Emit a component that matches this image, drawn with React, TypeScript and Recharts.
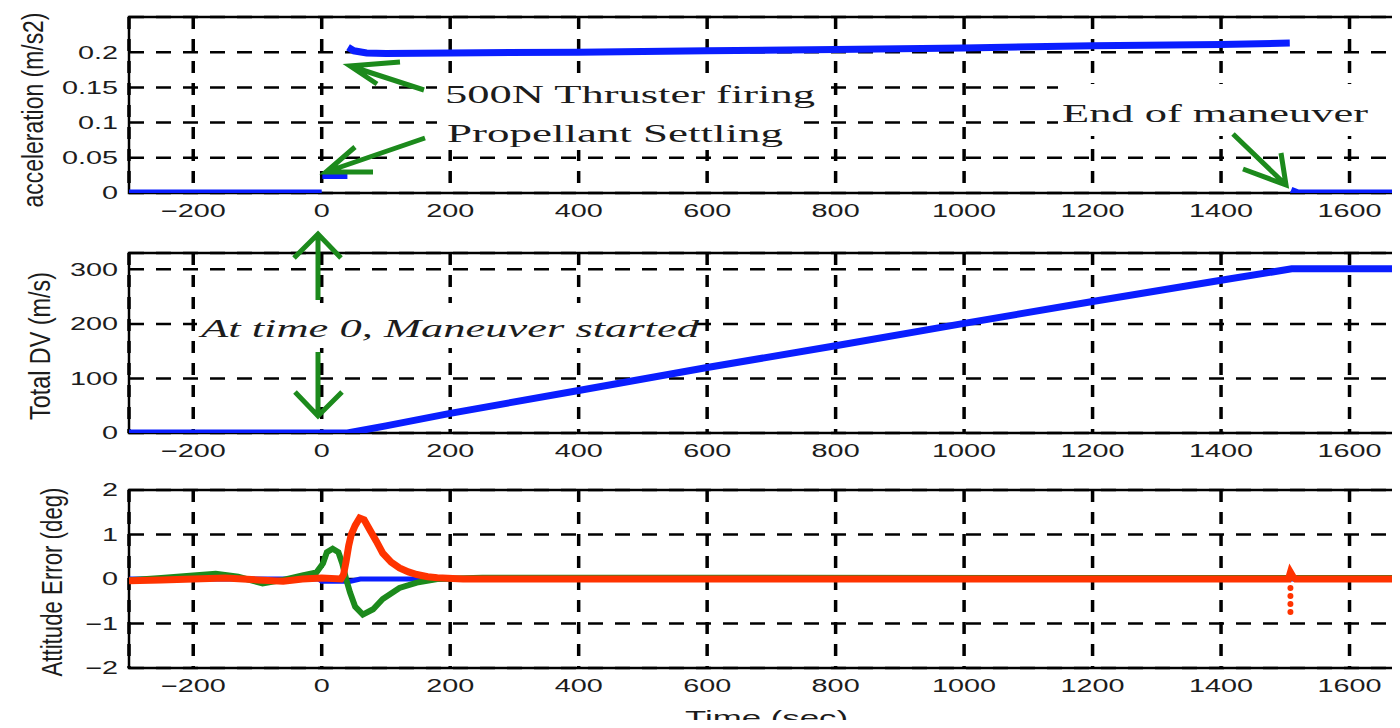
import React from "react";
import { CartesianGrid, Line, LineChart, ReferenceArea, XAxis, YAxis } from "recharts";

// time axis (sec)
const timeTicks = [-200, 0, 200, 400, 600, 800, 1000, 1200, 1400, 1600];

// acceleration (m/s2) — null breaks the trace between segments
const accTime = [-300, 0, 0.5, 1, 40, 40.5, 41, 50, 70, 100, 200, 400, 600, 800, 1000, 1200, 1400, 1507, 1508, 1509, 1520, 1800];
const accValue = [0, 0, null, 0.025, 0.025, null, 0.207, 0.202, 0.199, 0.198, 0.199, 0.2, 0.202, 0.204, 0.206, 0.209, 0.211, 0.213, null, 0.004, 0, 0];
const accTicks = [0, 0.05, 0.1, 0.15, 0.2];

// total delta-V (m/s)
const dvTime = [-300, 40, 100, 200, 400, 600, 800, 1000, 1200, 1400, 1510, 1800];
const dvValue = [0, 0, 13, 36, 78, 120, 160, 201, 241, 280, 301, 301];
const dvTicks = [0, 100, 200, 300];

// attitude error (deg), three axes
const blueTime = [-300, -5, 0, 45, 60, 150, 1800];
const blueValue = [0, 0, -0.05, -0.05, 0, 0, 0];
const greenTime = [-300, -250, -200, -165, -130, -92, -60, -30, -8, 2, 8, 17, 26, 32, 38, 44, 52, 64, 80, 95, 121, 148, 180, 250, 1800];
const greenValue = [-0.03, 0.02, 0.08, 0.12, 0.05, -0.1, -0.02, 0.08, 0.15, 0.35, 0.6, 0.68, 0.6, 0.35, 0, -0.3, -0.62, -0.8, -0.68, -0.45, -0.2, -0.08, 0, 0.03, 0.02];
const redTime = [-300, -250, -200, -150, -100, -60, -30, 0, 30, 34, 38, 42, 46, 52, 59, 66, 75, 85, 95, 108, 121, 135, 148, 165, 180, 220, 1505, 1508, 1510, 1512, 1516, 1800];
const redValue = [-0.04, -0.02, 0, 0.02, -0.02, -0.05, 0, 0.02, 0, 0.1, 0.4, 0.75, 1.0, 1.2, 1.37, 1.33, 1.1, 0.85, 0.58, 0.38, 0.25, 0.16, 0.1, 0.05, 0.03, 0, 0, 0.15, 0.1, 0.05, 0, 0];
const redDotTime = [1508, 1508, 1508, 1508];
const redDotValue = [-0.2, -0.38, -0.56, -0.74];
const attTicks = [-2, -1, 0, 1, 2];

const BLUE = "#0a1eff";
const GREEN = "#1c8a1c";
const RED = "#ff3300";
const INK = "#1c1c1c";
const SANS = "'Liberation Sans', Arial, sans-serif";
const SERIF = "'Liberation Serif', 'Times New Roman', serif";
const STRETCH = 1.6; // the source figure is squashed wide

const zip = (ts: number[], vs: (number | null)[]) => ts.map((t, i) => ({ t, v: vs[i] }));
const fmt = (v: number) => (v < 0 ? "\u2212" + Math.abs(v) : String(v));

function XTick({ x, y, payload }: any) {
  return (
    <text
      transform={`translate(${x},${y + 18}) scale(${STRETCH},1)`}
      textAnchor="middle"
      dominantBaseline="central"
      fontFamily={SANS}
      fontSize={18}
      fill={INK}
    >
      {fmt(payload.value)}
    </text>
  );
}

function YTick({ x, y, payload }: any) {
  return (
    <text
      transform={`translate(${x - 11},${y}) scale(${STRETCH},1)`}
      textAnchor="end"
      dominantBaseline="central"
      fontFamily={SANS}
      fontSize={18}
      fill={INK}
    >
      {fmt(payload.value)}
    </text>
  );
}

function Panel({ plotTop, plotH, yDomain, yTicks, children }: any) {
  return (
    <div style={{ position: "absolute", left: 0, top: plotTop - 17 }}>
      <LineChart width={1500} height={17 + plotH + 30} margin={{ top: 17, right: 22, bottom: 0, left: 0 }}>
        <CartesianGrid vertical={false} stroke="#000" strokeWidth={2.5} strokeDasharray="15 12" />
        <CartesianGrid horizontal={false} stroke="#000" strokeWidth={3.5} strokeDasharray="12 10" />
        <XAxis
          type="number"
          dataKey="t"
          domain={[-300, 1800]}
          ticks={timeTicks}
          allowDataOverflow
          tick={<XTick />}
          tickLine={false}
          axisLine={false}
          tickSize={0}
          tickMargin={0}
          height={30}
        />
        <YAxis
          type="number"
          domain={yDomain}
          ticks={yTicks}
          allowDataOverflow
          tick={<YTick />}
          tickLine={false}
          axisLine={false}
          tickSize={0}
          tickMargin={0}
          width={129}
        />
        <ReferenceArea x1={-300} x2={1800} y1={yDomain[0]} y2={yDomain[1]} fill="none" stroke="#000" strokeWidth={2.5} ifOverflow="visible" />
        {children}
      </LineChart>
    </div>
  );
}

function Arrow({ d }: { d: string }) {
  return <path d={d} fill="none" stroke={GREEN} strokeWidth={5} strokeLinejoin="miter" />;
}

function YLabel({ x, cy, len, text }: any) {
  return (
    <text
      transform={`translate(${x},${cy}) rotate(-90) scale(1,1.5)`}
      textAnchor="middle"
      fontFamily={SANS}
      fontSize={20}
      fill={INK}
      textLength={len}
      lengthAdjust="spacingAndGlyphs"
    >
      {text}
    </text>
  );
}

export default function App() {
  return (
    <div style={{ position: "relative", width: 1400, height: 728, margin: -8, overflow: "hidden", background: "#fff" }}>
      <Panel plotTop={17} plotH={176} yDomain={[0, 0.25]} yTicks={accTicks}>
        <Line data={zip(accTime, accValue)} dataKey="v" stroke={BLUE} strokeWidth={7} dot={false} connectNulls={false} isAnimationActive={false} />
      </Panel>
      <Panel plotTop={253} plotH={180} yDomain={[0, 330]} yTicks={dvTicks}>
        <Line data={zip(dvTime, dvValue)} dataKey="v" stroke={BLUE} strokeWidth={7} dot={false} isAnimationActive={false} />
      </Panel>
      <Panel plotTop={490} plotH={178} yDomain={[-2, 2]} yTicks={attTicks}>
        <Line data={zip(blueTime, blueValue)} dataKey="v" stroke={BLUE} strokeWidth={5} dot={false} isAnimationActive={false} />
        <Line data={zip(greenTime, greenValue)} dataKey="v" stroke={GREEN} strokeWidth={6} dot={false} isAnimationActive={false} />
        <Line data={zip(redTime, redValue)} dataKey="v" stroke={RED} strokeWidth={7} dot={false} isAnimationActive={false} />
        <Line
          data={zip(redDotTime, redDotValue)}
          dataKey="v"
          stroke="none"
          dot={{ r: 3, fill: RED, stroke: "none" }}
          isAnimationActive={false}
        />
      </Panel>

      <svg width={1400} height={728} style={{ position: "absolute", left: 0, top: 0, pointerEvents: "none" }}>
        {/* axis labels */}
        <YLabel x={43} cy={110} len={195} text="acceleration (m/s2)" />
        <YLabel x={50} cy={346} len={148} text="Total DV (m/s)" />
        <YLabel x={62} cy={582} len={189} text="Attitude Error (deg)" />
        <text x={685} y={725} fontFamily={SANS} fontSize={20} fill={INK} textLength={163} lengthAdjust="spacingAndGlyphs">
          Time (sec)
        </text>
        <text x={-8} y={468} fontFamily={SERIF} fontSize={30} fill={INK}>)</text>

        {/* annotation boxes */}
        <rect x={437} y={76} width={385} height={35} fill="#fff" />
        <rect x={437} y={111} width={358} height={39} fill="#fff" />
        <rect x={1058} y={84} width={400} height={52} fill="#fff" />
        <rect x={197} y={303} width={500} height={45} fill="#fff" />

        <text x={445} y={103} fontFamily={SERIF} fontSize={25} fill={INK} textLength={370} lengthAdjust="spacingAndGlyphs">
          500N Thruster firing
        </text>
        <text x={447} y={142} fontFamily={SERIF} fontSize={25} fill={INK} textLength={336} lengthAdjust="spacingAndGlyphs">
          Propellant Settling
        </text>
        <text x={1062} y={122} fontFamily={SERIF} fontSize={25} fill={INK} textLength={306} lengthAdjust="spacingAndGlyphs">
          End of maneuver
        </text>
        <text x={201} y={337} fontFamily={SERIF} fontStyle="italic" fontSize={25} fill={INK} textLength={498} lengthAdjust="spacingAndGlyphs">
          At time 0, Maneuver started
        </text>

        {/* arrows */}
        <Arrow d="M 424 90 L 350 66 M 400 62 L 350 66 L 377 84" />
        <Arrow d="M 425 138 L 326 172 M 373 172 L 326 172 L 355 147" />
        <Arrow d="M 1233 134 L 1286 185 M 1243 169 L 1286 185 L 1281 153" />
        <Arrow d="M 318 300 L 318 234 M 294 258 L 318 234 L 341 258" />
        <Arrow d="M 318 352 L 318 416 M 295 392 L 318 416 L 342 392" />
      </svg>
    </div>
  );
}
